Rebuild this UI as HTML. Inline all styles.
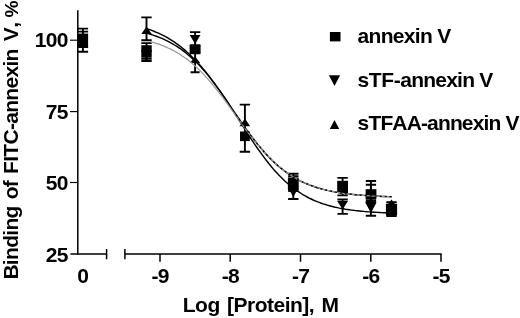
<!DOCTYPE html>
<html><head><meta charset="utf-8"><title>Binding of FITC-annexin V</title>
<style>
html,body{margin:0;padding:0;background:#fff;}
body{width:520px;height:318px;overflow:hidden;}
svg{display:block;filter:blur(0.35px);}
text{font-family:"Liberation Sans",Arial,Helvetica,sans-serif;font-weight:bold;fill:#000;font-kerning:none;}
</style></head><body>
<svg width="520" height="318" viewBox="0 0 520 318">
<rect width="520" height="318" fill="#fff"/>

<g stroke="#000" stroke-width="1.5" fill="none" stroke-linecap="butt">
<path d="M77.8,10.3 V254.8"/>
<path d="M70.4,254.1 H106.6 M106.6,249 V259.2"/>
<path d="M124.9,254.1 H441.7 M124.9,249 V259.2"/>
</g><g stroke="#000" stroke-width="1.15" fill="none">
<path d="M70,40.2 H77.7"/>
<path d="M70,111.6 H77.7"/>
<path d="M70,182.5 H77.7"/>
</g><g stroke="#000" stroke-width="1.5" fill="none">
<path d="M160.0,254 V261.8"/>
<path d="M230.2,254 V261.8"/>
<path d="M300.5,254 V261.8"/>
<path d="M370.8,254 V261.8"/>
<path d="M441.0,254 V261.8"/>
</g>
<text transform="translate(67.9,46.9)" font-size="21.0" letter-spacing="-0.62" text-anchor="end">100</text>
<text transform="translate(67.9,119.0)" font-size="21.0" letter-spacing="-0.62" text-anchor="end">75</text>
<text transform="translate(67.9,190.4)" font-size="21.0" letter-spacing="-0.62" text-anchor="end">50</text>
<text transform="translate(67.9,261.8)" font-size="21.0" letter-spacing="-0.62" text-anchor="end">25</text>
<text transform="translate(82.7,283)" font-size="21.0" letter-spacing="-0.62" text-anchor="middle">0</text>
<text transform="translate(160.2,283)" font-size="21.0" letter-spacing="-0.62" text-anchor="middle">-9</text>
<text transform="translate(230.4,283)" font-size="21.0" letter-spacing="-0.62" text-anchor="middle">-8</text>
<text transform="translate(300.7,283)" font-size="21.0" letter-spacing="-0.62" text-anchor="middle">-7</text>
<text transform="translate(370.9,283)" font-size="21.0" letter-spacing="-0.62" text-anchor="middle">-6</text>
<text transform="translate(441.2,283)" font-size="21.0" letter-spacing="-0.62" text-anchor="middle">-5</text>
<text transform="translate(182.8,312.3)" font-size="21.0" letter-spacing="-0.52" word-spacing="2.059">Log [Protein], M</text>
<text transform="translate(18.1,279.6) rotate(-90)" font-size="21.0" letter-spacing="-0.7" word-spacing="1.859">Binding of FITC-annexin<tspan dx="1.2"> V,</tspan><tspan dx="-1.2" font-size="19.1"> %</tspan></text>
<path d="M82.9,28.6 V51.7 M77.7,28.6 H88.1 M77.7,51.7 H88.1" stroke="#000" stroke-width="1.9" fill="none"/>
<path d="M82.9,31.6 V47.0 M77.7,31.6 H88.1 M77.7,47.0 H88.1" stroke="#000" stroke-width="1.9" fill="none"/>
<rect x="77.7" y="33.6" width="10.4" height="13.8" fill="#000"/>
<path d="M146.5,17.4 V40.3 M141.3,17.4 H151.7 M141.3,40.3 H151.7" stroke="#000" stroke-width="1.9" fill="none"/>
<path d="M141.3,33.9 H151.7 L146.5,26.5 Z" fill="#000"/>
<path d="M146.5,43.1 V61.0 M141.3,43.1 H151.7 M141.3,61.0 H151.7" stroke="#000" stroke-width="1.9" fill="none"/>
<rect x="141.3" y="45.2" width="10.4" height="12.4" fill="#000"/>
<path d="M146.5,51.0 V58.7 M141.3,51.0 H151.7 M141.3,58.7 H151.7" stroke="#000" stroke-width="1.9" fill="none"/>
<path d="M195.1,32.1 V45.2 M189.9,32.1 H200.3 M189.9,45.2 H200.3" stroke="#000" stroke-width="1.9" fill="none"/>
<path d="M189.7,35.1 H200.5 L195.1,43.9 Z" fill="#000"/>
<rect x="189.6" y="45.0" width="11" height="8.6" fill="#000"/>
<path d="M195.1,53.4 V72.3 M189.9,53.4 H200.3 M190.6,72.3 H199.6" stroke="#000" stroke-width="1.9" fill="none"/>
<path d="M189.9,63.1 H200.3 L195.1,56.5 Z" fill="#000"/>
<path d="M244.9,104.6 V151.7 M239.7,104.6 H250.1 M239.7,151.7 H250.1" stroke="#000" stroke-width="1.9" fill="none"/>
<path d="M239.6,126.3 H250.2 L244.9,118.5 Z" fill="#000"/>
<rect x="240.0" y="131.5" width="9.8" height="9.6" fill="#000"/>
<path d="M293.3,173.8 V199.0 M288.1,173.8 H298.5 M288.1,199.0 H298.5" stroke="#000" stroke-width="1.9" fill="none"/>
<path d="M293.3,176.3 V190.0 M288.1,176.3 H298.5 M288.1,190.0 H298.5" stroke="#000" stroke-width="1.9" fill="none"/>
<rect x="287.9" y="177.6" width="10.8" height="12.4" fill="#000"/>
<path d="M287.9,192.0 H298.7 L293.3,184.6 Z" fill="#000"/>
<path d="M287.9,187.4 H298.7 L293.3,197.0 Z" fill="#000"/>
<path d="M342.6,177.9 V195.4 M337.4,177.9 H347.8 M337.4,195.4 H347.8" stroke="#000" stroke-width="1.9" fill="none"/>
<rect x="337.2" y="180.8" width="10.8" height="12.2" fill="#000"/>
<path d="M342.6,199.5 V213.9 M337.4,199.5 H347.8 M337.4,213.9 H347.8" stroke="#000" stroke-width="1.9" fill="none"/>
<path d="M337.2,201.0 H348.0 L342.6,209.6 Z" fill="#000"/>
<path d="M370.9,181.0 V200.3 M365.8,181.0 H376.1 M365.8,200.3 H376.1" stroke="#000" stroke-width="1.9" fill="none"/>
<path d="M370.9,184.7 V202.2 M365.8,184.7 H376.1 M365.8,202.2 H376.1" stroke="#000" stroke-width="1.9" fill="none"/>
<rect x="365.6" y="189.2" width="10.8" height="9.8" fill="#000"/>
<path d="M370.9,202.2 V215.8 M365.8,202.2 H376.1 M365.8,215.8 H376.1" stroke="#000" stroke-width="1.9" fill="none"/>
<path d="M365.4,202.7 H376.4 L370.9,212.9 Z" fill="#000"/>
<path d="M391.5,202.2 V216.0 M386.3,202.2 H396.7 M386.3,216.0 H396.7" stroke="#000" stroke-width="1.9" fill="none"/>
<path d="M386.7,205.8 H396.3 L391.5,199.4 Z" fill="#000"/>
<rect x="385.9" y="203.9" width="11.2" height="11.4" fill="#000"/>
<path d="M146.4,28.5 L148.4,29.2 L150.4,29.9 L152.4,30.7 L154.4,31.5 L156.4,32.3 L158.5,33.2 L160.5,34.1 L162.5,35.1 L164.5,36.1 L166.5,37.2 L168.5,38.4 L170.5,39.6 L172.5,40.9 L174.5,42.2 L176.5,43.6 L178.6,45.1 L180.6,46.6 L182.6,48.2 L184.6,49.9 L186.6,51.7 L188.6,53.5 L190.6,55.4 L192.6,57.4 L194.6,59.4 L196.6,61.6 L198.7,63.8 L200.7,66.0 L202.7,68.4 L204.7,70.8 L206.7,73.3 L208.7,75.8 L210.7,78.4 L212.7,81.1 L214.7,83.8 L216.7,86.6 L218.8,89.4 L220.8,92.2 L222.8,95.1 L224.8,98.0 L226.8,100.9 L228.8,103.9 L230.8,106.9 L232.8,109.8 L234.8,112.8 L236.8,115.7 L238.9,118.6 L240.9,121.6 L242.9,124.4 L244.9,127.3 L246.9,130.1 L248.9,132.9 L250.9,135.6 L252.9,138.2 L254.9,140.8 L256.9,143.4 L259.0,145.9 L261.0,148.3 L263.0,150.6 L265.0,152.9 L267.0,155.1 L269.0,157.2 L271.0,159.2 L273.0,161.2 L275.0,163.1 L277.0,164.9 L279.0,166.7 L281.1,168.3 L283.1,169.9 L285.1,171.4 L287.1,172.9 L289.1,174.3 L291.1,175.6 L293.1,176.9 L295.1,178.1 L297.1,179.2 L299.1,180.3 L301.2,181.3 L303.2,182.3 L305.2,183.2 L307.2,184.0 L309.2,184.8 L311.2,185.6 L313.2,186.3 L315.2,187.0 L317.2,187.7 L319.2,188.3 L321.3,188.9 L323.3,189.4 L325.3,189.9 L327.3,190.4 L329.3,190.8 L331.3,191.3 L333.3,191.6 L335.3,192.0 L337.3,192.4 L339.3,192.7 L341.4,193.0 L343.4,193.3 L345.4,193.6 L347.4,193.8 L349.4,194.1 L351.4,194.3 L353.4,194.5 L355.4,194.7 L357.4,194.9 L359.4,195.0 L361.5,195.2 L363.5,195.4 L365.5,195.5 L367.5,195.6 L369.5,195.8 L371.5,195.9 L373.5,196.0 L375.5,196.1 L377.5,196.2 L379.5,196.3 L381.6,196.4 L383.6,196.4 L385.6,196.5 L387.6,196.6 L389.6,196.6 L391.6,196.7" stroke="#000" stroke-width="1.45" fill="none"/>
<path d="M146.4,33.1 L148.4,33.6 L150.4,34.2 L152.4,34.9 L154.4,35.6 L156.4,36.3 L158.5,37.1 L160.5,37.9 L162.5,38.7 L164.5,39.6 L166.5,40.6 L168.5,41.6 L170.5,42.7 L172.5,43.8 L174.5,45.0 L176.5,46.2 L178.6,47.6 L180.6,48.9 L182.6,50.4 L184.6,51.9 L186.6,53.5 L188.6,55.2 L190.6,56.9 L192.6,58.7 L194.6,60.6 L196.6,62.6 L198.7,64.6 L200.7,66.8 L202.7,69.0 L204.7,71.3 L206.7,73.6 L208.7,76.1 L210.7,78.6 L212.7,81.2 L214.7,83.9 L216.7,86.6 L218.8,89.4 L220.8,92.3 L222.8,95.2 L224.8,98.1 L226.8,101.1 L228.8,104.2 L230.8,107.3 L232.8,110.4 L234.8,113.5 L236.8,116.7 L238.9,119.8 L240.9,123.0 L242.9,126.1 L244.9,129.3 L246.9,132.4 L248.9,135.5 L250.9,138.6 L252.9,141.6 L254.9,144.6 L256.9,147.5 L259.0,150.4 L261.0,153.2 L263.0,155.9 L265.0,158.6 L267.0,161.2 L269.0,163.8 L271.0,166.2 L273.0,168.6 L275.0,170.9 L277.0,173.1 L279.0,175.3 L281.1,177.3 L283.1,179.3 L285.1,181.2 L287.1,183.0 L289.1,184.7 L291.1,186.4 L293.1,188.0 L295.1,189.5 L297.1,190.9 L299.1,192.2 L301.2,193.5 L303.2,194.8 L305.2,195.9 L307.2,197.0 L309.2,198.1 L311.2,199.0 L313.2,200.0 L315.2,200.8 L317.2,201.7 L319.2,202.4 L321.3,203.2 L323.3,203.9 L325.3,204.5 L327.3,205.1 L329.3,205.7 L331.3,206.2 L333.3,206.7 L335.3,207.2 L337.3,207.6 L339.3,208.1 L341.4,208.5 L343.4,208.8 L345.4,209.2 L347.4,209.5 L349.4,209.8 L351.4,210.1 L353.4,210.3 L355.4,210.6 L357.4,210.8 L359.4,211.0 L361.5,211.2 L363.5,211.4 L365.5,211.6 L367.5,211.8 L369.5,211.9 L371.5,212.0 L373.5,212.2 L375.5,212.3 L377.5,212.4 L379.5,212.5 L381.6,212.6 L383.6,212.7 L385.6,212.8 L387.6,212.9 L389.6,213.0 L391.6,213.1" stroke="#000" stroke-width="1.45" fill="none"/>
<path d="M150.0,41.5 L152.0,42.1 L154.0,42.6 L156.0,43.3 L158.1,43.9 L160.1,44.7 L162.1,45.4 L164.1,46.2 L166.1,47.1 L168.1,48.0 L170.1,48.9 L172.1,49.9 L174.2,51.0 L176.2,52.1 L178.2,53.3 L180.2,54.5 L182.2,55.9 L184.2,57.2 L186.2,58.7 L188.3,60.2 L190.3,61.8 L192.3,63.5 L194.3,65.2 L196.3,67.1 L198.3,69.0 L200.3,70.9 L202.3,73.0 L204.4,75.1 L206.4,77.3 L208.4,79.6 L210.4,81.9 L212.4,84.3 L214.4,86.8 L216.4,89.3 L218.5,91.9 L220.5,94.5 L222.5,97.2 L224.5,99.9 L226.5,102.6 L228.5,105.4 L230.5,108.2 L232.5,111.0 L234.6,113.8 L236.6,116.6 L238.6,119.4 L240.6,122.2 L242.6,125.0 L244.6,127.7 L246.6,130.5 L248.7,133.1 L250.7,135.8 L252.7,138.4 L254.7,140.9 L256.7,143.4 L258.7,145.9 L260.7,148.2 L262.7,150.5 L264.8,152.8 L266.8,154.9 L268.8,157.0 L270.8,159.1 L272.8,161.0 L274.8,162.9 L276.8,164.7 L278.9,166.4 L280.9,168.1 L282.9,169.7 L284.9,171.2 L286.9,172.7 L288.9,174.0 L290.9,175.4 L292.9,176.6 L295.0,177.8 L297.0,179.0 L299.0,180.0 L301.0,181.1 L303.0,182.0 L305.0,183.0 L307.0,183.8 L309.1,184.6 L311.1,185.4 L313.1,186.2 L315.1,186.9 L317.1,187.5 L319.1,188.1 L321.1,188.7 L323.1,189.3 L325.2,189.8 L327.2,190.3 L329.2,190.7 L331.2,191.2 L333.2,191.6 L335.2,191.9 L337.2,192.3 L339.3,192.6 L341.3,193.0 L343.3,193.3 L345.3,193.5 L347.3,193.8 L349.3,194.1 L351.3,194.3 L353.3,194.5 L355.4,194.7 L357.4,194.9 L359.4,195.1 L361.4,195.3 L363.4,195.4 L365.4,195.6 L367.4,195.7 L369.5,195.8 L371.5,196.0 L373.5,196.1 L375.5,196.2 L377.5,196.3 L379.5,196.4 L381.5,196.5 L383.5,196.6 L385.6,196.6 L387.6,196.7 L389.6,196.8 L391.6,196.8" stroke="#9a9a9a" stroke-width="1.25" fill="none"/>
<path d="M236.0,114.5 L238.0,117.4 L240.0,120.4 L242.1,123.3 L244.1,126.2 L246.1,129.0 L248.1,131.8 L250.1,134.5 L252.2,137.2 L254.2,139.9 L256.2,142.5 L258.2,145.0 L260.2,147.4 L262.3,149.8 L264.3,152.1 L266.3,154.3 L268.3,156.5 L270.4,158.6 L272.4,160.6 L274.4,162.5 L276.4,164.4 L278.4,166.1 L280.5,167.8 L282.5,169.5 L284.5,171.0 L286.5,172.5 L288.5,173.9 L290.6,175.3 L292.6,176.5 L294.6,177.8 L296.6,178.9 L298.6,180.0 L300.7,181.0 L302.7,182.0 L304.7,183.0 L306.7,183.8 L308.7,184.7 L310.8,185.4 L312.8,186.2 L314.8,186.9 L316.8,187.5 L318.9,188.2 L320.9,188.7 L322.9,189.3 L324.9,189.8 L326.9,190.3 L329.0,190.8 L331.0,191.2 L333.0,191.6 L335.0,192.0 L337.0,192.3 L339.1,192.7 L341.1,193.0 L343.1,193.3 L345.1,193.5 L347.1,193.8 L349.2,194.0 L351.2,194.3 L353.2,194.5 L355.2,194.7 L357.2,194.9 L359.3,195.0 L361.3,195.2 L363.3,195.3 L365.3,195.5 L367.4,195.6 L369.4,195.8 L371.4,195.9 L373.4,196.0 L375.4,196.1 L377.5,196.2 L379.5,196.3 L381.5,196.3 L383.5,196.4 L385.5,196.5 L387.6,196.6 L389.6,196.6 L391.6,196.7" stroke="#000" stroke-width="1.2" stroke-dasharray="2 3" fill="none"/>
<rect x="329.9" y="32.0" width="10.6" height="9.4" fill="#000"/>
<path d="M328.9,75.2 H340.1 L334.5,86.0 Z" fill="#000"/>
<path d="M329.8,128.9 H339.2 L334.5,119.9 Z" fill="#000"/>
<text transform="translate(357.5,43.1)" font-size="21.0" letter-spacing="-0.67">annexin V</text>
<text transform="translate(357.6,86.7)" font-size="21.0" letter-spacing="-0.77"><tspan letter-spacing="-0.42">sTF-</tspan>annexin V</text>
<text transform="translate(357.6,129.7)" font-size="21.0" letter-spacing="-0.86">sTFAA-annexin V</text>
</svg></body></html>
